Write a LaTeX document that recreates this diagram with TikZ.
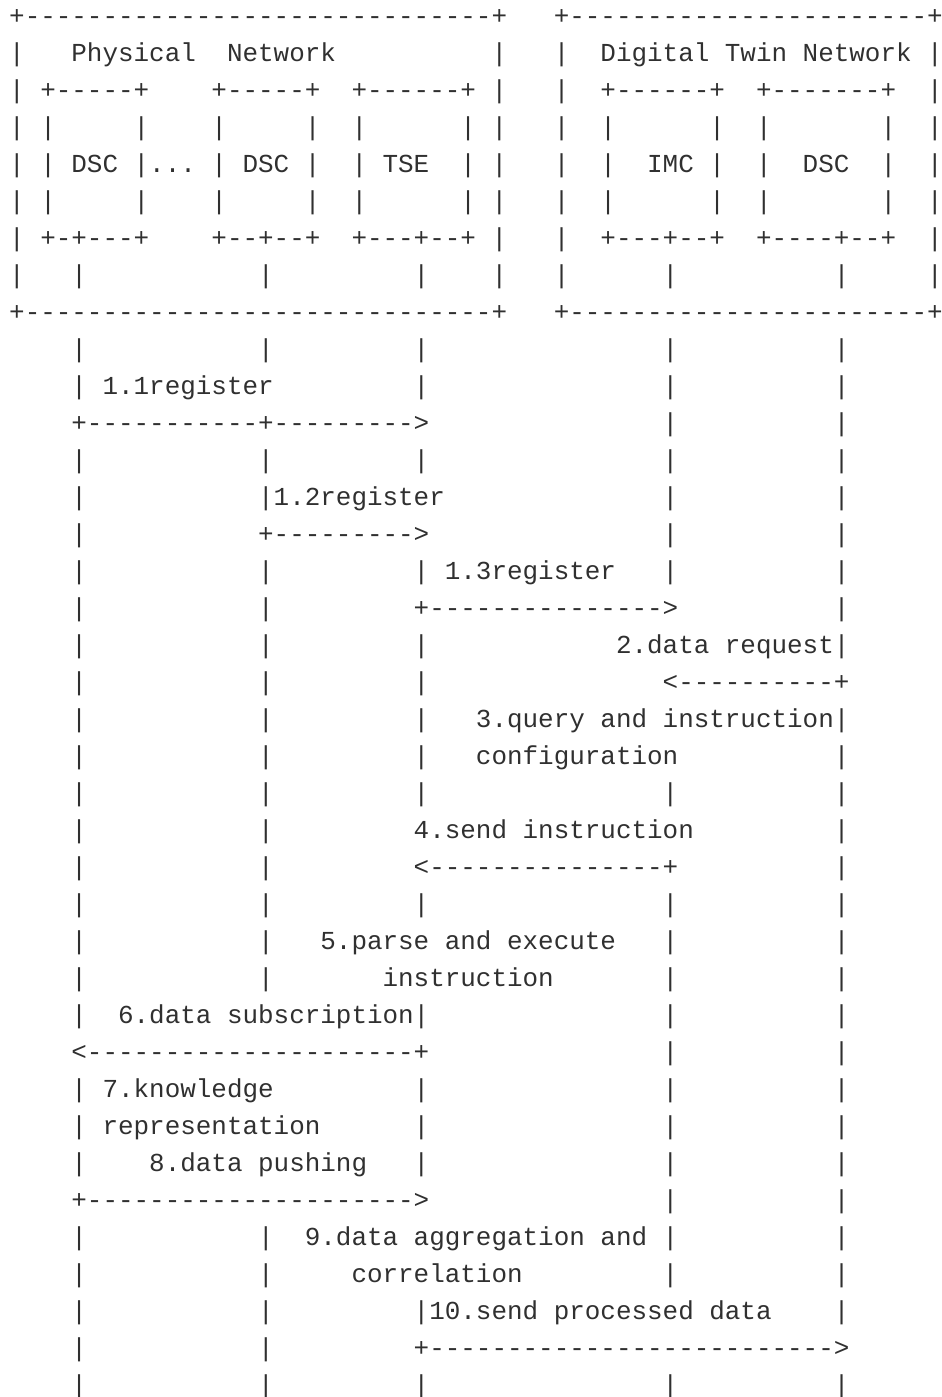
\documentclass[tikz,border=0pt]{standalone}
\usepackage{fontspec}
\setmonofont{Liberation Mono}
\usepackage{tikz}
\definecolor{asciiink}{HTML}{303030}

\begin{document}
\begin{tikzpicture}[x=11.67pt, y=-27.75pt]
    % Define styles (one unit = one character column / one text row)
    \tikzset{ascii/.style={anchor=base west, inner sep=0pt, outer sep=0pt, text=asciiink,
        font=\ttfamily\fontsize{19.45pt}{27.75pt}\selectfont}}
    \tikzset{bar/.style={ascii}}

    \useasboundingbox (-0.591,0.332) rectangle (59.95,38.09);

    % Draw the two network frames
    \node[ascii] (phys_top) at (0,1) {+------------------------------+};
    \node[ascii] (twin_top) at (35,1) {+-----------------------+};
    \node[ascii] (phys_bot) at (0,9) {+------------------------------+};
    \node[ascii] (twin_bot) at (35,9) {+-----------------------+};
    \foreach \r in {2,...,8}
        \foreach \c in {0,31,35,59}
            \node[bar] (frame-\c-\r) at (\c,\r) {|};

    \node[ascii] (phys_title) at (4,2) {Physical};
    \node[ascii] (phys_title2) at (14,2) {Network};
    \node[ascii] (twin_title) at (38,2) {Digital Twin Network};

    % Draw the component boxes
    \node[ascii] (dsc1_top) at (2,3) {+-----+};
    \node[ascii] (dsc2_top) at (13,3) {+-----+};
    \node[ascii] (tse_top) at (22,3) {+------+};
    \node[ascii] (imc_top) at (38,3) {+------+};
    \node[ascii] (dsc3_top) at (48,3) {+-------+};
    \foreach \r in {4,5,6}
        \foreach \c in {2,8,13,19,22,29,38,45,48,56}
            \node[bar] (side-\c-\r) at (\c,\r) {|};
    \node[ascii] (dsc1) at (4,5) {DSC};
    \node[ascii] (dots) at (9,5) {...};
    \node[ascii] (dsc2) at (15,5) {DSC};
    \node[ascii] (tse) at (24,5) {TSE};
    \node[ascii] (imc) at (41,5) {IMC};
    \node[ascii] (dsc3) at (51,5) {DSC};
    \node[ascii] (dsc1_bot) at (2,7) {+-+---+};
    \node[ascii] (dsc2_bot) at (13,7) {+--+--+};
    \node[ascii] (tse_bot) at (22,7) {+---+--+};
    \node[ascii] (imc_bot) at (38,7) {+---+--+};
    \node[ascii] (dsc3_bot) at (48,7) {+----+--+};

    % Draw lifelines
    \foreach \r in {8,10,11,13,14,...,28,30,31,32,34,35,...,38}
        \node[bar] (life4-\r) at (4,\r) {|};
    \foreach \r in {8,10,13,14,16,17,...,27,34,35,...,38}
        \node[bar] (life16-\r) at (16,\r) {|};
    \foreach \r in {8,10,11,13,16,18,19,...,22,25,28,30,31,32,36,38}
        \node[bar] (life26-\r) at (26,\r) {|};
    \foreach \r in {8,10,11,...,16,22,25,26,...,35,38}
        \node[bar] (life42-\r) at (42,\r) {|};
    \foreach \r in {8,10,11,...,18,20,21,...,36,38}
        \node[bar] (life53-\r) at (53,\r) {|};

    % Draw messages
    \node[ascii] (msg11) at (6,11) {1.1register};
    \node[ascii] (arr11) at (4,12) {+-----------+--------->};
    \node[ascii] (msg12) at (17,14) {1.2register};
    \node[ascii] (arr12) at (16,15) {+--------->};
    \node[ascii] (msg13) at (28,16) {1.3register};
    \node[ascii] (arr13) at (26,17) {+--------------->};
    \node[ascii] (msg2) at (39,18) {2.data request};
    \node[ascii] (arr2) at (42,19) {<----------+};
    \node[ascii] (msg3a) at (30,20) {3.query and instruction};
    \node[ascii] (msg3b) at (30,21) {configuration};
    \node[ascii] (msg4) at (26,23) {4.send instruction};
    \node[ascii] (arr4) at (26,24) {<---------------+};
    \node[ascii] (msg5a) at (20,26) {5.parse and execute};
    \node[ascii] (msg5b) at (24,27) {instruction};
    \node[ascii] (msg6) at (7,28) {6.data subscription};
    \node[ascii] (arr6) at (4,29) {<---------------------+};
    \node[ascii] (msg7a) at (6,30) {7.knowledge};
    \node[ascii] (msg7b) at (6,31) {representation};
    \node[ascii] (msg8) at (9,32) {8.data pushing};
    \node[ascii] (arr8) at (4,33) {+--------------------->};
    \node[ascii] (msg9a) at (19,34) {9.data aggregation and};
    \node[ascii] (msg9b) at (22,35) {correlation};
    \node[ascii] (msg10) at (27,36) {10.send processed data};
    \node[ascii] (arr10) at (26,37) {+-------------------------->};

\end{tikzpicture}
\end{document}
